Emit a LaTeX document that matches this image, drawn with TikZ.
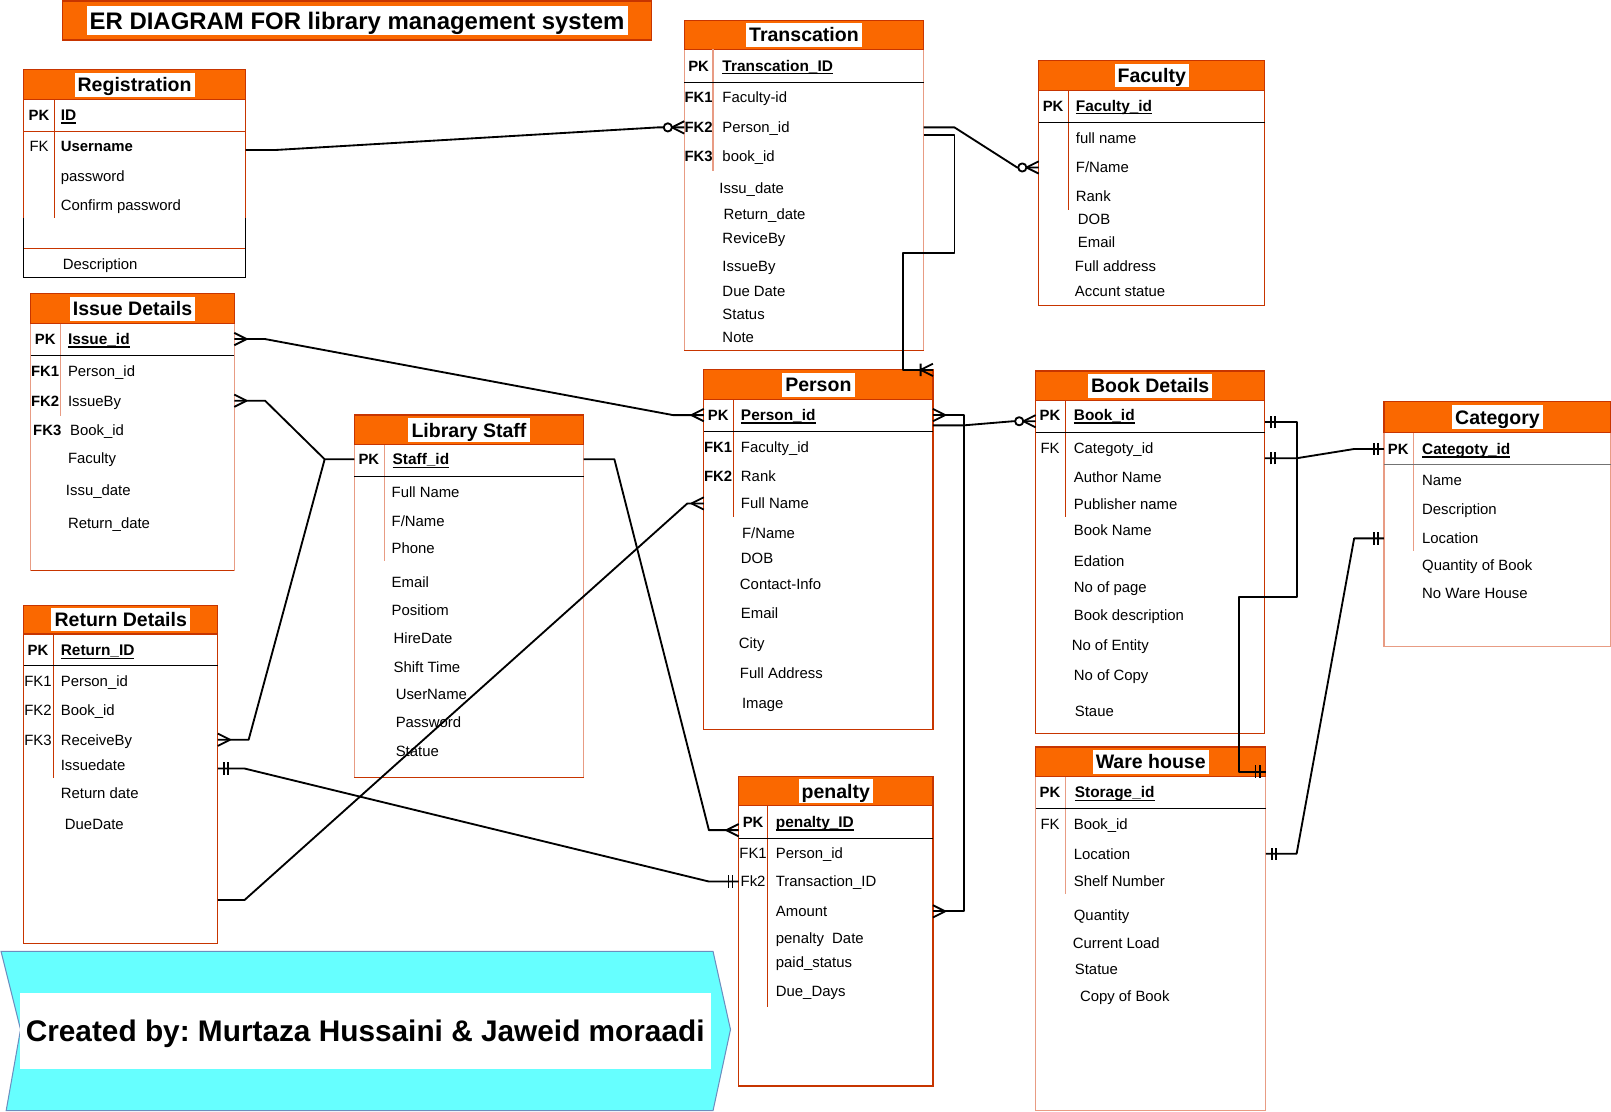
\documentclass[tikz,border=0pt]{standalone}
\usepackage{fontspec}
\setmainfont{Liberation Sans}
\usetikzlibrary{calc}
\definecolor{orfill}{HTML}{FA6800}
\definecolor{orline}{HTML}{C73500}
\definecolor{salline}{HTML}{E89C84}
\definecolor{cyanfill}{HTML}{66FFFF}
\definecolor{cyanline}{HTML}{6C8EBF}
\newcommand{\pkname}[1]{\setbox0\hbox{#1}\rlap{\vrule width\wd0 height -2pt depth 3.2pt}\box0}
\frenchspacing

\begin{document}
\begin{tikzpicture}[x=1pt,y=-1pt]
	\tikzset{tbl/.style={draw=orline, line width=1.2pt, fill=white, anchor=north west, inner sep=0pt, outer sep=0pt},
		stbl/.style={tbl, draw=salline},
		hdr/.style={draw=orline, line width=1.2pt, fill=orfill, anchor=north west, inner sep=0pt, outer sep=0pt, minimum height=29pt},
		ttl/.style={fill=white, inner xsep=3pt, inner ysep=0pt, minimum height=23pt, text height=13.7pt, text depth=0pt, font=\bfseries\fontsize{19}{22}\selectfont},
		attr/.style={anchor=west, inner sep=0pt, text height=10.4pt, text depth=0pt, font=\fontsize{14.5}{17}\selectfont},
		keyn/.style={attr, anchor=center},
		keyb/.style={keyn, font=\bfseries\fontsize{14.5}{17}\selectfont},
		pk/.style={attr, font=\bfseries\fontsize{15}{17}\selectfont},
		pkline/.style={draw=black, line width=1.2pt},
		colsep/.style={draw=orline, line width=1.2pt},
		conn/.style={draw=black, line width=1.8pt, line join=round},
		many/.pic={\draw[conn] (-12,0) -- (0,-6) (-12,0) -- (0,6);},
		zmany/.pic={\draw[conn] (-12,0) -- (0,-6) (-12,0) -- (0,6);
			\draw[conn, fill=white] (-16,0) circle (4pt);},
		one/.pic={\draw[conn] (-6,-6) -- (-6,6) (-10,-6) -- (-10,6);},
		onemany/.pic={\draw[conn] (-12,0) -- (0,-6) (-12,0) -- (0,6) (-12,-6) -- (-12,6);},
	}
	\useasboundingbox (0,0) rectangle (1568,1082);
	% title
	\node [hdr, minimum width=573pt, minimum height=38pt] (main) at (61,1) {};
	\node [ttl, minimum height=29pt, text height=16.8pt, font=\bfseries\fontsize{23.3}{26}\selectfont] (main-t) at (main) {ER DIAGRAM FOR library management system};
	% Registration
	\node [tbl, minimum width=216pt, minimum height=202pt] (reg) at (23,68) {};
	\node [hdr, minimum width=216pt] (reg-h) at (23,68) {};
	\node [ttl] (reg-t) at (reg-h) {Registration};
	\node [keyb] (reg-pkk) at (38,112) {PK};
	\node [pk] (reg-pk) at (59,112) {\pkname{ID}};
	\node [keyn] (reg-fkk) at (38,142) {FK};
	\node [attr, font=\bfseries\fontsize{14.5}{17}\selectfont] (reg-user) at (59,142) {Username};
	\node [attr] (reg-pass) at (59,171) {password};
	\node [attr] (reg-conf) at (59,200) {Confirm password};
	\node [attr] (reg-desc) at (61,257) {Description};
	\draw [colsep] (53,97) -- (53,212);
	\draw [pkline, draw=orline] (23,128) -- (239,128);
	\draw [pkline, draw=orline] (23,242) -- (239,242);
	\draw [pkline] (23,212) -- (23,270) -- (239,270) -- (239,212);
	% Transcation
	\node [stbl, minimum width=233pt, minimum height=321pt] (trn) at (666,20) {};
	\node [hdr, minimum width=233pt, minimum height=28pt] (trn-h) at (666,20) {};
	\node [ttl] (trn-t) at (trn-h) {Transcation};
	\node [keyb] (trn-pkk) at (680,64) {PK};
	\node [pk] (trn-pk) at (703,64) {\pkname{Transcation\_ID}};
	\node [keyb] (trn-fk1k) at (680,95) {FK1};
	\node [attr] (trn-fk1) at (703,95) {Faculty-id};
	\node [keyb] (trn-fk2k) at (680,124) {FK2};
	\node [attr] (trn-fk2) at (703,124) {Person\_id};
	\node [keyb] (trn-fk3k) at (680,152) {FK3};
	\node [attr] (trn-fk3) at (703,152) {book\_id};
	\node [attr] (trn-idate) at (700,183) {Issu\_date};
	\node [attr] (trn-rdate) at (704,208) {Return\_date};
	\node [attr] (trn-rby) at (703,232) {ReviceBy};
	\node [attr] (trn-iby) at (703,259) {IssueBy};
	\node [attr] (trn-due) at (703,283) {Due Date};
	\node [attr] (trn-stat) at (703,306) {Status};
	\node [attr] (trn-note) at (703,328) {Note};
	\draw [colsep, draw=salline] (694,48) -- (694,166);
	\draw [pkline] (666,80) -- (899,80);
	\draw [pkline, draw=orline] (666,341) -- (899,341);
	% Faculty
	\node [tbl, minimum width=220pt, minimum height=238pt] (fac) at (1011,59) {};
	\node [hdr, minimum width=220pt] (fac-h) at (1011,59) {};
	\node [ttl] (fac-t) at (fac-h) {Faculty};
	\node [keyb] (fac-pkk) at (1025,103) {PK};
	\node [pk] (fac-pk) at (1047,103) {\pkname{Faculty\_id}};
	\node [attr] (fac-name) at (1047,134) {full name};
	\node [attr] (fac-fname) at (1047,163) {F/Name};
	\node [attr] (fac-rank) at (1047,191) {Rank};
	\node [attr] (fac-dob) at (1049,213) {DOB};
	\node [attr] (fac-email) at (1049,236) {Email};
	\node [attr] (fac-addr) at (1046,259) {Full address};
	\node [attr] (fac-acc) at (1046,283) {Accunt statue};
	\draw [colsep] (1040,88) -- (1040,204);
	\draw [pkline] (1011,119) -- (1231,119);
	% Issue Details
	\node [stbl, minimum width=198pt, minimum height=269pt] (iss) at (30,286) {};
	\node [hdr, minimum width=198pt] (iss-h) at (30,286) {};
	\node [ttl] (iss-t) at (iss-h) {Issue Details};
	\node [keyb] (iss-pkk) at (44,330) {PK};
	\node [pk] (iss-pk) at (66,330) {\pkname{Issue\_id}};
	\node [keyb] (iss-fk1k) at (44,361) {FK1};
	\node [attr] (iss-fk1) at (66,361) {Person\_id};
	\node [keyb] (iss-fk2k) at (44,390) {FK2};
	\node [attr] (iss-fk2) at (66,390) {IssueBy};
	\node [keyb] (iss-fk3k) at (46,419) {FK3};
	\node [attr] (iss-fk3) at (68,419) {Book\_id};
	\node [attr] (iss-fac) at (66,446) {Faculty};
	\node [attr] (iss-idate) at (64,477) {Issu\_date};
	\node [attr] (iss-rdate) at (66,509) {Return\_date};
	\draw [colsep, draw=salline] (59,315) -- (59,405);
	\draw [pkline] (30,346) -- (228,346);
	\draw [pkline, draw=orline] (30,555) -- (228,555);
	% Library Staff
	\node [stbl, minimum width=223pt, minimum height=353pt] (stf) at (345,404) {};
	\node [hdr, minimum width=223pt] (stf-h) at (345,404) {};
	\node [ttl] (stf-t) at (stf-h) {Library Staff};
	\node [keyb] (stf-pkk) at (359,447) {PK};
	\node [pk] (stf-pk) at (382,447) {\pkname{Staff\_id}};
	\node [attr] (stf-name) at (381,479) {Full Name};
	\node [attr] (stf-fname) at (381,507) {F/Name};
	\node [attr] (stf-phone) at (381,534) {Phone};
	\node [attr] (stf-email) at (381,567) {Email};
	\node [attr] (stf-pos) at (381,594) {Positiom};
	\node [attr] (stf-hire) at (383,621) {HireDate};
	\node [attr] (stf-shift) at (383,649) {Shift Time};
	\node [attr] (stf-user) at (385,676) {UserName};
	\node [attr] (stf-pass) at (385,703) {Password};
	\node [attr] (stf-stat) at (385,731) {Statue};
	\draw [colsep, draw=salline] (374,433) -- (374,546);
	\draw [pkline] (345,464) -- (568,464);
	\draw [pkline, draw=orline] (345,757) -- (568,757);
	% Return Details
	\node [tbl, minimum width=189pt, minimum height=329pt] (ret) at (23,589) {};
	\node [hdr, minimum width=189pt, minimum height=28pt] (ret-h) at (23,589) {};
	\node [ttl] (ret-t) at (ret-h) {Return Details};
	\node [keyb] (ret-pkk) at (37,633) {PK};
	\node [pk] (ret-pk) at (59,633) {\pkname{Return\_ID}};
	\node [keyn] (ret-fk1k) at (37,663) {FK1};
	\node [attr] (ret-fk1) at (59,663) {Person\_id};
	\node [keyn] (ret-fk2k) at (37,691) {FK2};
	\node [attr] (ret-fk2) at (59,691) {Book\_id};
	\node [keyn] (ret-fk3k) at (37,720) {FK3};
	\node [attr] (ret-fk3) at (59,720) {ReceiveBy};
	\node [attr] (ret-idate) at (59,745) {Issuedate};
	\node [attr] (ret-rdate) at (59,772) {Return date};
	\node [attr] (ret-due) at (63,802) {DueDate};
	\draw [colsep] (52,617) -- (52,757);
	\draw [pkline] (23,648) -- (212,648);
	% Person
	\node [tbl, minimum width=223pt, minimum height=350pt] (per) at (685,360) {};
	\node [hdr, minimum width=223pt] (per-h) at (685,360) {};
	\node [ttl] (per-t) at (per-h) {Person};
	\node [keyb] (per-pkk) at (699,404) {PK};
	\node [pk] (per-pk) at (721,404) {\pkname{Person\_id}};
	\node [keyb] (per-fk1k) at (699,435) {FK1};
	\node [attr] (per-fk1) at (721,435) {Faculty\_id};
	\node [keyb] (per-fk2k) at (699,463) {FK2};
	\node [attr] (per-fk2) at (721,463) {Rank};
	\node [attr] (per-name) at (721,490) {Full Name};
	\node [attr] (per-fname) at (722,519) {F/Name};
	\node [attr] (per-dob) at (721,543) {DOB};
	\node [attr] (per-cont) at (720,569) {Contact-Info};
	\node [attr] (per-email) at (721,597) {Email};
	\node [attr] (per-city) at (719,626) {City};
	\node [attr] (per-addr) at (720,655) {Full Address};
	\node [attr] (per-img) at (722,684) {Image};
	\draw [colsep] (714,389) -- (714,503);
	\draw [pkline] (685,420) -- (908,420);
	% Book Details
	\node [tbl, minimum width=223pt, minimum height=353pt] (bok) at (1008,361) {};
	\node [hdr, minimum width=223pt] (bok-h) at (1008,361) {};
	\node [ttl] (bok-t) at (bok-h) {Book Details};
	\node [keyb] (bok-pkk) at (1022,404) {PK};
	\node [pk] (bok-pk) at (1045,404) {\pkname{Book\_id}};
	\node [keyn] (bok-fkk) at (1022,436) {FK};
	\node [attr] (bok-fk) at (1045,436) {Categoty\_id};
	\node [attr] (bok-auth) at (1045,464) {Author Name};
	\node [attr] (bok-pub) at (1045,491) {Publisher name};
	\node [attr] (bok-name) at (1045,516) {Book Name};
	\node [attr] (bok-ed) at (1045,546) {Edation};
	\node [attr] (bok-page) at (1045,571) {No of page};
	\node [attr] (bok-desc) at (1045,599) {Book description};
	\node [attr] (bok-ent) at (1043,628) {No of Entity};
	\node [attr] (bok-copy) at (1045,657) {No of Copy};
	\node [attr] (bok-stat) at (1046,692) {Staue};
	\draw [colsep] (1037,390) -- (1037,503);
	\draw [pkline] (1008,421) -- (1231,421);
	% Category
	\node [stbl, minimum width=221pt, minimum height=238pt] (cat) at (1347,391) {};
	\node [hdr, minimum width=221pt, minimum height=30pt] (cat-h) at (1347,391) {};
	\node [ttl] (cat-t) at (cat-h) {Category};
	\node [keyb] (cat-pkk) at (1361,437) {PK};
	\node [pk] (cat-pk) at (1384,437) {\pkname{Categoty\_id}};
	\node [attr] (cat-name) at (1384,467) {Name};
	\node [attr] (cat-desc) at (1384,496) {Description};
	\node [attr] (cat-loc) at (1384,524) {Location};
	\node [attr] (cat-qty) at (1384,550) {Quantity of Book};
	\node [attr] (cat-ware) at (1384,577) {No Ware House};
	\draw [colsep, draw=salline] (1376,421) -- (1376,536);
	\draw [pkline, draw=black!55] (1347,452) -- (1568,452);
	% Ware house
	\node [stbl, minimum width=224pt, minimum height=354pt] (war) at (1008,727) {};
	\node [hdr, minimum width=224pt] (war-h) at (1008,727) {};
	\node [ttl] (war-t) at (war-h) {Ware house};
	\node [keyb] (war-pkk) at (1022,771) {PK};
	\node [pk] (war-pk) at (1046,771) {\pkname{Storage\_id}};
	\node [keyn] (war-fkk) at (1022,802) {FK};
	\node [attr] (war-fk) at (1045,802) {Book\_id};
	\node [attr] (war-loc) at (1045,831) {Location};
	\node [attr] (war-shelf) at (1045,858) {Shelf Number};
	\node [attr] (war-qty) at (1045,891) {Quantity};
	\node [attr] (war-load) at (1044,918) {Current Load};
	\node [attr] (war-stat) at (1046,943) {Statue};
	\node [attr] (war-copy) at (1051,970) {Copy of Book};
	\draw [colsep, draw=salline] (1037,756) -- (1037,870);
	\draw [pkline] (1008,787) -- (1232,787);
	% penalty
	\node [tbl, minimum width=189pt, minimum height=301pt] (pen) at (719,756) {};
	\node [hdr, minimum width=189pt, minimum height=28pt] (pen-h) at (719,756) {};
	\node [ttl] (pen-t) at (pen-h) {penalty};
	\node [keyb] (pen-pkk) at (733,800) {PK};
	\node [pk] (pen-pk) at (755,800) {\pkname{penalty\_ID}};
	\node [keyn] (pen-fk1k) at (733,830) {FK1};
	\node [attr] (pen-fk1) at (755,830) {Person\_id};
	\node [keyn] (pen-fk2k) at (733,858) {Fk2};
	\node [attr] (pen-fk2) at (755,858) {Transaction\_ID};
	\node [attr] (pen-amount) at (755,887) {Amount};
	\node [attr] (pen-date) at (755,913) {penalty\ \ Date};
	\node [attr] (pen-paid) at (755,936) {paid\_status};
	\node [attr] (pen-days) at (755,965) {Due\_Days};
	\draw [colsep] (747,784) -- (747,980);
	\draw [pkline] (719,816) -- (908,816);
	% credit banner
	\draw [fill=cyanfill, draw=cyanline, line width=1pt] (1,926) -- (694,926) -- (711,1002) -- (694,1081) -- (6,1081) -- (20,1002) -- cycle;
	\node [fill=white, inner sep=0pt, minimum width=673pt, minimum height=74pt, text height=20.8pt, text depth=0pt, font=\bfseries\fontsize{29}{34}\selectfont] (credit) at (355.5,1003) {Created by: Murtaza Hussaini \& Jaweid moraadi};
	% relations
	\draw [conn] ($(reg.east |- reg-user)+(0,4)$) -- ++(29,0) -- ($(trn.west |- trn-fk2)+(-26,0)$) -- (trn.west |- trn-fk2);
	\pic at (trn.west |- trn-fk2) {zmany};
	\draw [conn] (trn.east |- trn-fk2) -- ++(30,0) -- ($(fac.west |- fac-fname)+(-21,0)$) -- (fac.west |- fac-fname);
	\pic at (fac.west |- fac-fname) {zmany};
	\draw [conn] ($(trn.east |- trn-fk2)+(0,7)$) -- ++(30,0) -- ++(0,115) -| ($(per.north east)+(-29,0)$) -- (per.north east);
	\pic at (per.north east) {onemany};
	\draw [conn] (iss.east |- iss-pk) -- ++(30,0) -- ($(per.west |- per-pk)+(-30,0)$) -- (per.west |- per-pk);
	\pic [rotate=180] at (iss.east |- iss-pk) {many};
	\pic at (per.west |- per-pk) {many};
	\draw [conn] (iss.east |- iss-fk2) -- ++(30,0) -- ($(stf.west |- stf-pk)+(-29,0)$) -- (stf.west |- stf-pk);
	\pic [rotate=180] at (iss.east |- iss-fk2) {many};
	\draw [conn] (ret.east |- ret-fk3) -- ++(30,0) -- ($(stf.west |- stf-pk)+(-29,0)$);
	\pic [rotate=180] at (ret.east |- ret-fk3) {many};
	\draw [conn] (stf.east |- stf-pk) -- ++(30,0) -- ($(pen.west |- pen-pk)+(-29,8)$) -- ($(pen.west |- pen-pk)+(0,8)$);
	\pic at ($(pen.west |- pen-pk)+(0,8)$) {many};
	\draw [conn] ($(ret.east |- ret-idate)+(0,3)$) -- ++(26,0) -- ($(pen.west |- pen-fk2)+(-29,0)$) -- (pen.west |- pen-fk2);
	\pic [rotate=180] at ($(ret.east |- ret-idate)+(0,3)$) {one};
	\pic at (pen.west |- pen-fk2) {one};
	\draw [conn] ($(ret.south east)+(0,-42)$) -- ++(26,0) -- ($(per.west |- per-name)+(-16,0)$) -- (per.west |- per-name);
	\pic at (per.west |- per-name) {many};
	\draw [conn] (per.east |- per-pk) -- ++(30,0) |- (pen.east |- pen-amount);
	\pic [rotate=180] at (per.east |- per-pk) {many};
	\pic [rotate=180] at (pen.east |- pen-amount) {many};
	\draw [conn] ($(per.east |- per-pk)+(0,10)$) -- ++(30,0) -- ($(bok.west |- bok-pk)+(-22,6)$) -- ($(bok.west |- bok-pk)+(0,6)$);
	\pic at ($(bok.west |- bok-pk)+(0,6)$) {zmany};
	\draw [conn] ($(bok.east |- bok-pk)+(0,7)$) -- ++(31,0) -- ++(0,170) -| ($(war.north east)+(-26,24)$) -- ($(war.north east)+(0,24)$);
	\pic [rotate=180] at ($(bok.east |- bok-pk)+(0,7)$) {one};
	\pic at ($(war.north east)+(0,24)$) {one};
	\draw [conn] ($(bok.east |- bok-fk)+(0,10)$) -- ++(31,0) -- ($(cat.west |- cat-pk)+(-29,0)$) -- (cat.west |- cat-pk);
	\pic [rotate=180] at ($(bok.east |- bok-fk)+(0,10)$) {one};
	\pic at (cat.west |- cat-pk) {one};
	\draw [conn] (war.east |- war-loc) -- ++(30,0) -- ($(cat.west |- cat-loc)+(-29,0)$) -- (cat.west |- cat-loc);
	\pic [rotate=180] at (war.east |- war-loc) {one};
	\pic at (cat.west |- cat-loc) {one};
\end{tikzpicture}
\end{document}
